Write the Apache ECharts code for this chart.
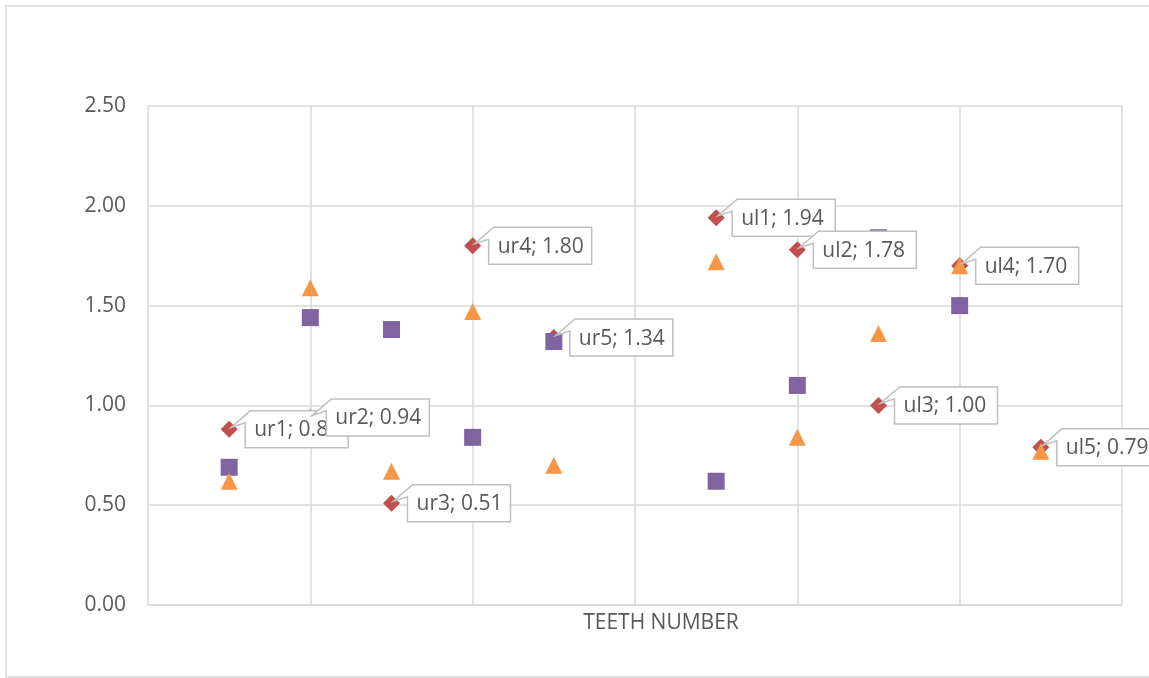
<!DOCTYPE html>
<html>
<head>
<meta charset="utf-8">
<script src="https://cdn.jsdelivr.net/npm/echarts@6/dist/echarts.min.js"></script>
<style>
html,body{margin:0;padding:0;background:#fff;}
#chart{width:1149px;height:678px;}
</style>
</head>
<body>
<div id="chart"></div>
<script>
// Data
var redX = [1, 2, 3, 4, 5, 7, 8, 9, 10, 11];
var redNames = ['ur1', 'ur2', 'ur3', 'ur4', 'ur5', 'ul1', 'ul2', 'ul3', 'ul4', 'ul5'];
var redValues = [0.88, 0.94, 0.51, 1.80, 1.34, 1.94, 1.78, 1.00, 1.70, 0.79];
var purpleX = [1, 2, 3, 4, 5, 7, 8, 9, 10];
var purpleValues = [0.69, 1.44, 1.38, 0.84, 1.32, 0.62, 1.10, 1.84, 1.50];
var orangeX = [1, 2, 3, 4, 5, 7, 8, 9, 10, 11];
var orangeValues = [0.62, 1.59, 0.67, 1.47, 0.70, 1.72, 0.84, 1.36, 1.70, 0.77];
var yTicks = [0, 0.5, 1.0, 1.5, 2.0, 2.5];
var xAxisTitle = 'TEETH NUMBER';

function pairs(xs, ys) { return xs.map(function (x, i) { return [x, ys[i]]; }); }

var FONT = '"Open Sans", "Liberation Sans", sans-serif';
var chart = echarts.init(document.getElementById('chart'), null, {renderer: 'canvas'});

var option = {
  animation: false,
  backgroundColor: '#fff',
  graphic: [{
    type: 'rect', silent: true, z: -10,
    shape: {x: 6, y: 6, width: 1180, height: 671},
    style: {fill: 'none', stroke: '#d9d9d9', lineWidth: 1.5}
  }],
  grid: {left: 148, right: 27, top: 106, bottom: 73, containLabel: false},
  xAxis: {
    type: 'value', min: 0, max: 12, interval: 2,
    name: xAxisTitle, nameLocation: 'middle', nameGap: 6,
    nameTextStyle: {color: '#595959', fontSize: 21, fontFamily: FONT, padding: [0, 0, 0, 52], lineHeight: 24},
    axisLine: {show: true, lineStyle: {color: '#d9d9d9', width: 1.5}},
    axisTick: {show: false},
    axisLabel: {show: false},
    splitLine: {show: true, lineStyle: {color: '#d9d9d9', width: 1.5}}
  },
  yAxis: {
    type: 'value', min: yTicks[0], max: yTicks[yTicks.length - 1], interval: yTicks[1] - yTicks[0],
    axisLine: {show: false},
    axisTick: {show: false},
    axisLabel: {color: '#595959', fontSize: 21, fontFamily: FONT, margin: 22,
      formatter: function (v) { return v.toFixed(2); }},
    splitLine: {show: true, lineStyle: {color: '#d9d9d9', width: 1.5}}
  },
  series: [
    {
      type: 'scatter', name: 'red', z: 2,
      symbol: 'diamond', symbolSize: 17,
      itemStyle: {color: '#C0504D', opacity: 1},
      data: pairs(redX, redValues)
    },
    {
      type: 'scatter', name: 'purple', z: 3,
      symbol: 'rect', symbolSize: 17,
      itemStyle: {color: '#8064A2', opacity: 1},
      data: pairs(purpleX, purpleValues)
    },
    {
      type: 'scatter', name: 'orange', z: 4,
      symbol: 'triangle', symbolSize: 17,
      itemStyle: {color: '#F79646', opacity: 1},
      data: pairs(orangeX, orangeValues)
    },
    {
      type: 'custom', name: 'labels', z: 10, clip: false,
      data: pairs(redX, redValues),
      renderItem: function (params, api) {
        var p = api.coord([api.value(0), api.value(1)]);
        var w = 103, h = 37;
        var bx = p[0] + 16, by = p[1] - h / 2;
        var txt = redNames[params.dataIndex] + '; ' + api.value(1).toFixed(2);
        return {
          type: 'group',
          children: [
            {
              type: 'polygon',
              shape: {points: [[bx + 5, by], [bx + w, by], [bx + w, by + h], [bx, by + h], [bx, by + 12], [p[0] + 2, p[1] - 2]]},
              style: {fill: '#ffffff', stroke: '#bfbfbf', lineWidth: 1.5}
            },
            {
              type: 'text',
              x: bx + 9, y: by + h / 2 + 1,
              style: {text: txt, fill: '#595959', fontSize: 21, fontFamily: FONT, align: 'left', verticalAlign: 'middle'}
            }
          ]
        };
      }
    }
  ]
};
chart.setOption(option);
</script>
</body>
</html>
